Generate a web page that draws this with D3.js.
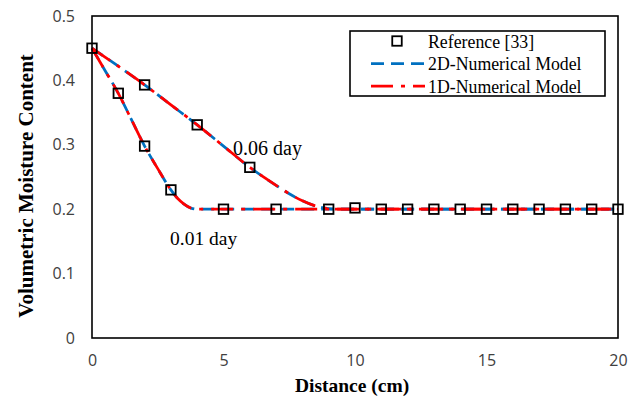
<!DOCTYPE html>
<html>
<head>
<meta charset="utf-8">
<script src="https://cdn.jsdelivr.net/npm/d3@7"></script>
<style>
  body { margin: 0; background: #fff; }
  svg { display: block; }
</style>
</head>
<body>
<svg id="chart" width="639" height="399"></svg>
<script>
// measured points, both time levels
const refDist = [0, 1, 2, 3, 5, 7, 9, 11, 12, 13, 14, 15, 16, 17, 18, 19, 20, 2, 4, 6, 10];
const refTheta = [0.45, 0.38, 0.298, 0.23, 0.2, 0.2, 0.2, 0.2, 0.2, 0.2, 0.2, 0.2, 0.2, 0.2, 0.2, 0.2, 0.2, 0.393, 0.331, 0.265, 0.202];

// model profiles at t = 0.01 day
const dist01 = [0, 0.5, 1, 1.5, 2, 2.5, 3, 3.25, 3.5, 3.75, 4, 4.5, 5, 20];
const theta01 = [0.45, 0.415, 0.38, 0.339, 0.298, 0.263, 0.23, 0.217, 0.208, 0.202, 0.2, 0.2, 0.2, 0.2];

// model profiles at t = 0.06 day
const dist06 = [0, 1, 2, 3, 4, 5, 6, 7, 7.5, 8, 8.5, 9, 9.5, 10, 20];
const theta06 = [0.45, 0.422, 0.393, 0.362, 0.331, 0.298, 0.265, 0.237, 0.224, 0.213, 0.205, 0.201, 0.2, 0.2, 0.2];

const xTicks = [0, 5, 10, 15, 20];
const yTicks = [0, 0.1, 0.2, 0.3, 0.4, 0.5];

const svg = d3.select("#chart");
const m = { left: 92, right: 618, top: 16, bottom: 338 };

const x = d3.scaleLinear().domain([0, 20]).range([m.left, m.right]);
const y = d3.scaleLinear().domain([0, 0.5]).range([m.bottom, m.top]);

const blueDash = "13,7";
const redDash = "22,8,4,8";

// tick labels only, no tick marks
const xAxis = svg.append("g")
    .attr("transform", `translate(0,${m.bottom})`)
    .call(d3.axisBottom(x).tickValues(xTicks).tickSize(0).tickPadding(17).tickFormat(d3.format("d")));
const yAxis = svg.append("g")
    .attr("transform", `translate(${m.left},0)`)
    .call(d3.axisLeft(y).tickValues(yTicks).tickSize(0).tickPadding(17).tickFormat(d => d === 0 ? "0" : d3.format(".1f")(d)));
[xAxis, yAxis].forEach(a => {
  a.select(".domain").remove();
  a.selectAll("text")
      .style("font-family", "'Open Sans', 'Liberation Sans', sans-serif")
      .style("font-size", "16px")
      .attr("fill", "#404040");
});

const line = d3.line().x(d => x(d[0])).y(d => y(d[1])).curve(d3.curveMonotoneX);

function profile(xs, ys) {
  return xs.map((v, i) => [v, ys[i]]);
}
const curves = [profile(dist01, theta01), profile(dist06, theta06)];

// 2D model, blue dashed
curves.forEach(c => {
  svg.append("path")
      .datum(c)
      .attr("d", line)
      .attr("fill", "none")
      .attr("stroke", "#0070C0")
      .attr("stroke-width", 2.75)
      .attr("stroke-dasharray", blueDash);
});
// 1D model, red dash-dot on top
curves.forEach(c => {
  svg.append("path")
      .datum(c)
      .attr("d", line)
      .attr("fill", "none")
      .attr("stroke", "#FF0000")
      .attr("stroke-width", 2.75)
      .attr("stroke-dasharray", redDash);
});

// plot frame
svg.append("rect")
    .attr("x", m.left).attr("y", m.top)
    .attr("width", m.right - m.left).attr("height", m.bottom - m.top)
    .attr("fill", "none").attr("stroke", "#000").attr("stroke-width", 1.6);

// reference markers
const sq = 9.5;
svg.append("g").selectAll("rect")
    .data(refDist.map((v, i) => [v, refTheta[i]]))
    .join("rect")
    .attr("x", d => x(d[0]) - sq / 2)
    .attr("y", d => y(d[1]) - sq / 2)
    .attr("width", sq).attr("height", sq)
    .attr("fill", "none").attr("stroke", "#000").attr("stroke-width", 1.8);

const serif = "'Liberation Serif', 'Times New Roman', serif";

svg.append("text")
    .attr("x", 233).attr("y", 155)
    .style("font-family", serif).style("font-size", "20px")
    .text("0.06 day");
svg.append("text")
    .attr("x", 170).attr("y", 245)
    .style("font-family", serif).style("font-size", "19.5px")
    .text("0.01 day");

// axis titles
svg.append("text")
    .attr("x", 352).attr("y", 392)
    .attr("text-anchor", "middle")
    .style("font-family", serif).style("font-size", "19.5px").style("font-weight", "bold")
    .text("Distance (cm)");
svg.append("text")
    .attr("transform", "translate(33,186) rotate(-90)")
    .attr("text-anchor", "middle")
    .style("font-family", serif).style("font-size", "21px").style("font-weight", "bold")
    .text("Volumetric Moisture Content");

// legend
const lg = svg.append("g");
lg.append("rect")
    .attr("x", 350).attr("y", 31).attr("width", 255).attr("height", 65)
    .attr("fill", "#fff").attr("stroke", "#000").attr("stroke-width", 1.6);
const rows = [
  { label: "Reference [33]", type: "marker" },
  { label: "2D-Numerical Model", type: "line", color: "#0070C0", dash: blueDash },
  { label: "1D-Numerical Model", type: "line", color: "#FF0000", dash: redDash }
];
rows.forEach((r, i) => {
  const cy = 41 + i * 22.5;
  if (r.type === "marker") {
    lg.append("rect")
        .attr("x", 397 - sq / 2).attr("y", cy - sq / 2)
        .attr("width", sq).attr("height", sq)
        .attr("fill", "none").attr("stroke", "#000").attr("stroke-width", 1.8);
  } else {
    lg.append("line")
        .attr("x1", 371).attr("x2", 425).attr("y1", cy).attr("y2", cy)
        .attr("stroke", r.color).attr("stroke-width", 2.75)
        .attr("stroke-dasharray", r.dash);
  }
  lg.append("text")
      .attr("x", 428).attr("y", cy + 6.5)
      .style("font-family", serif).style("font-size", "17.8px")
      .text(r.label);
});
</script>
</body>
</html>
